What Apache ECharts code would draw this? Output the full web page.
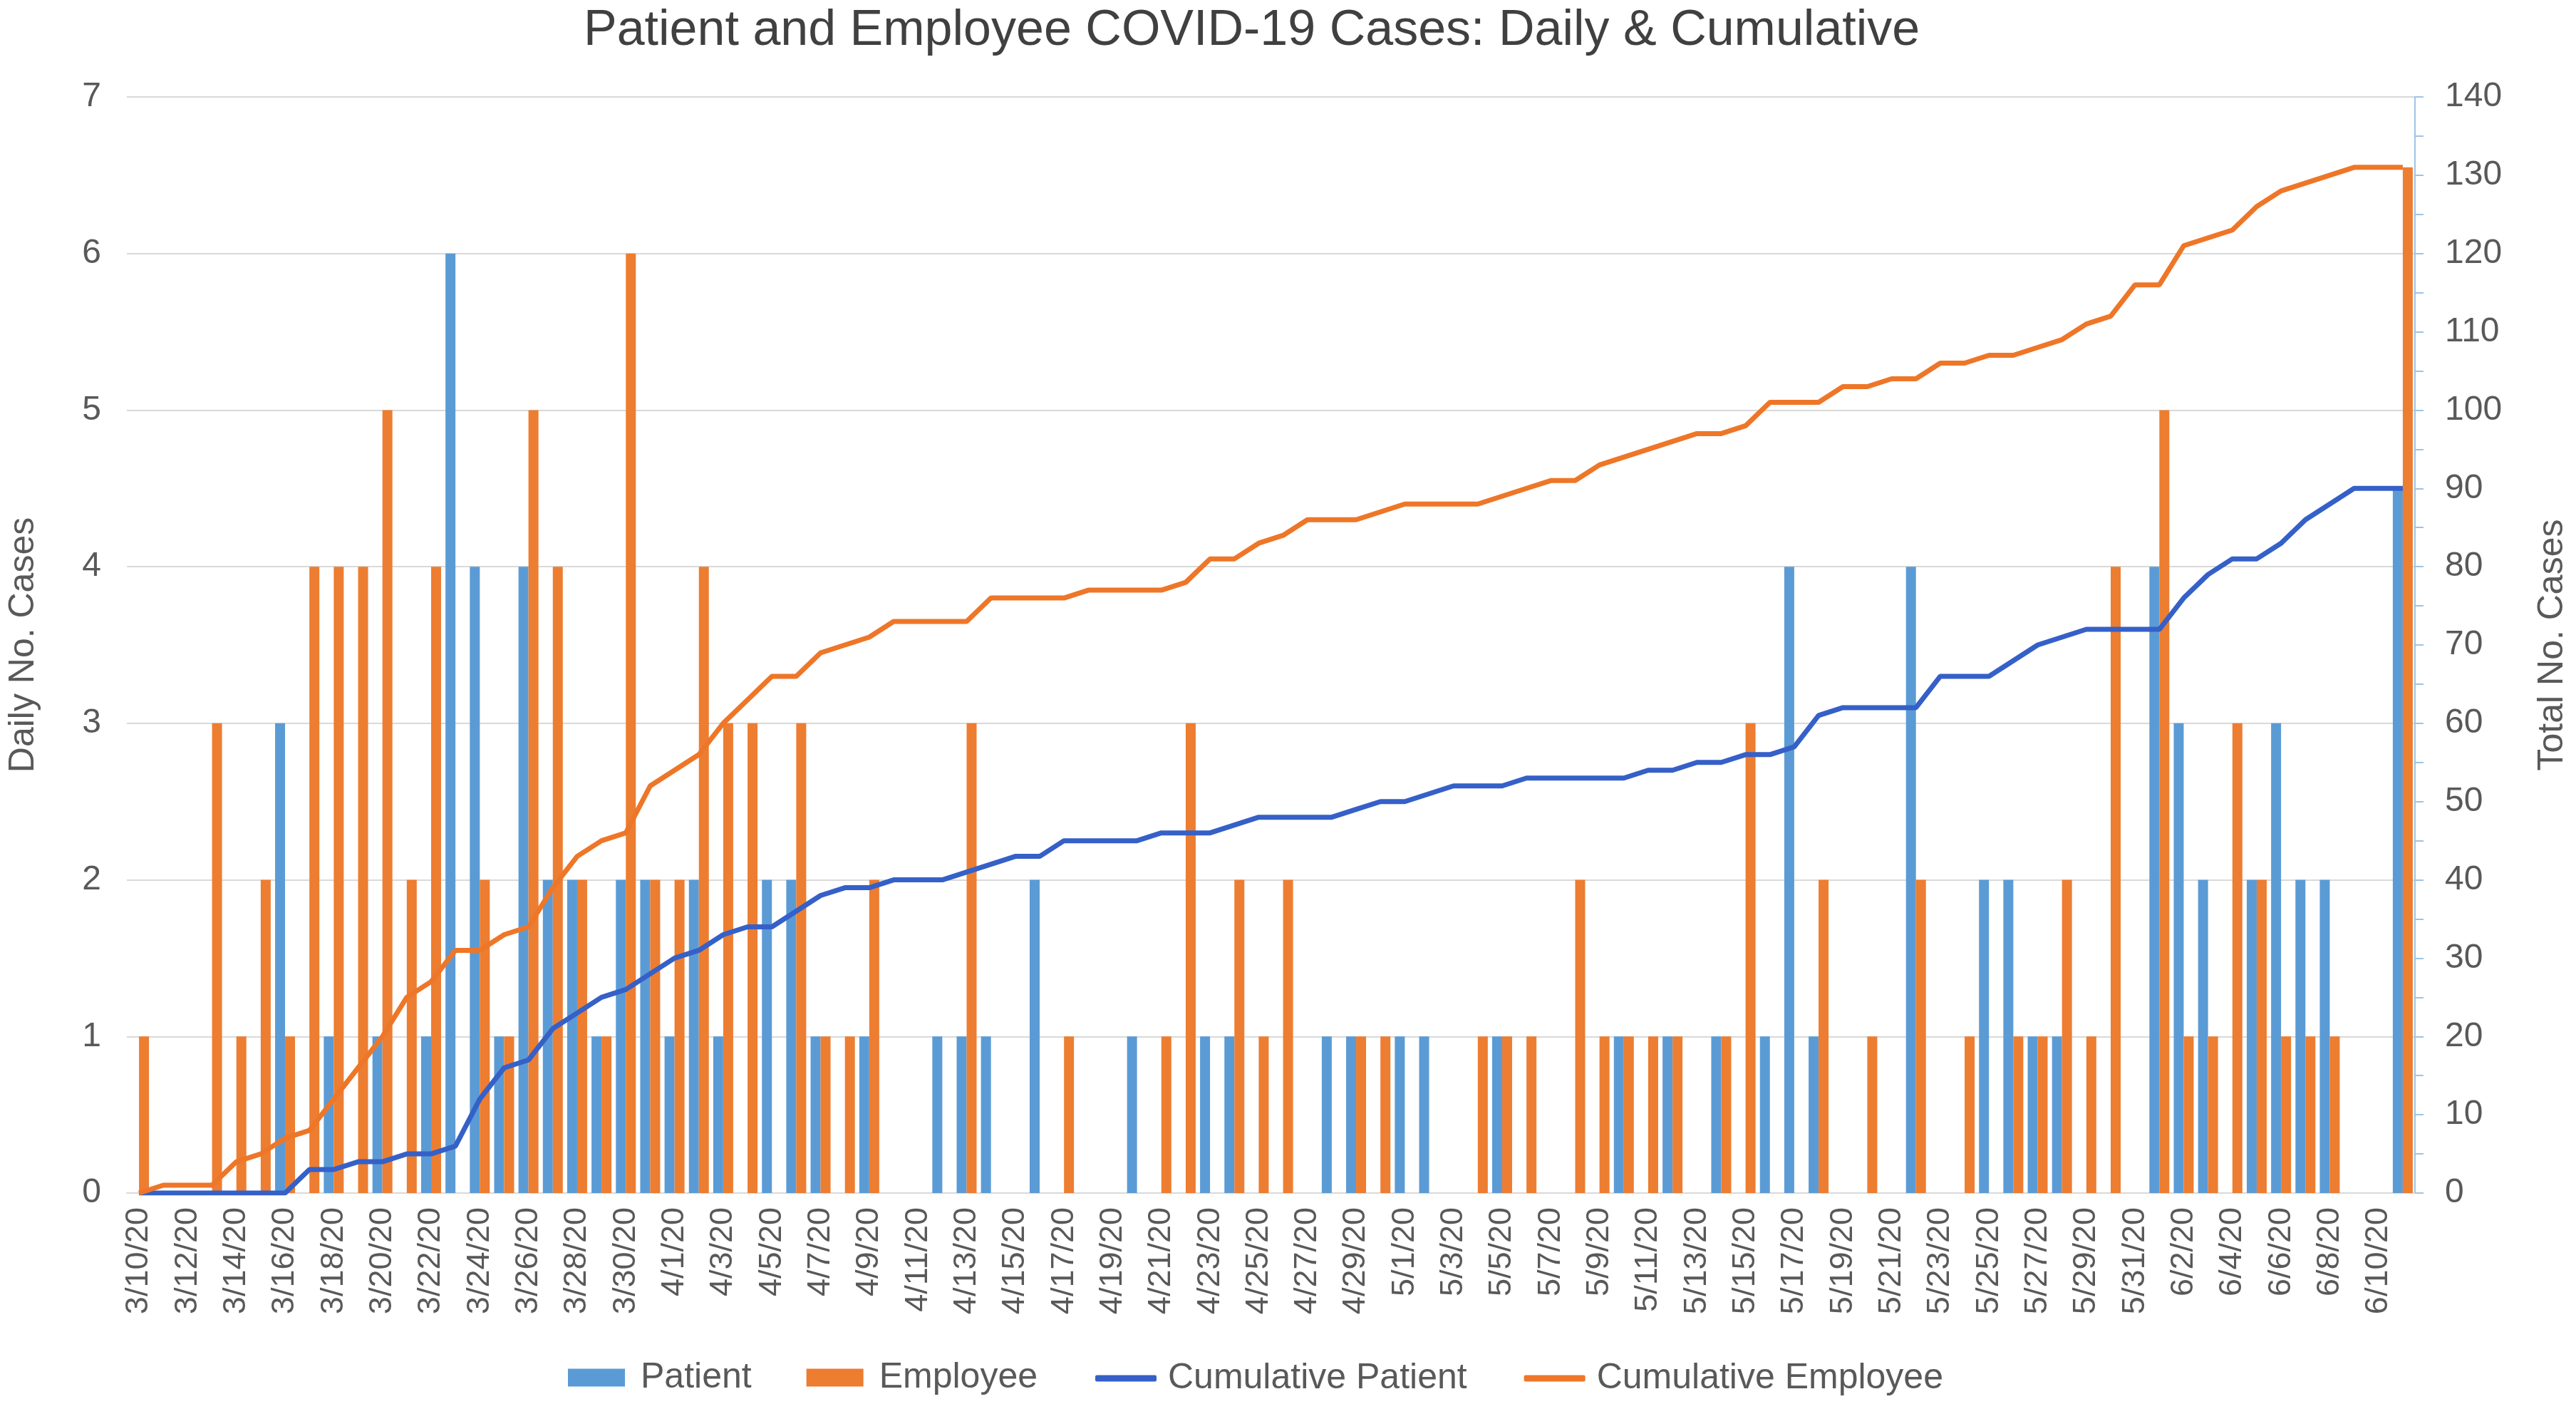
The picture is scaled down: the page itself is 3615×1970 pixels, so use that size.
<!DOCTYPE html>
<html>
<head>
<meta charset="utf-8">
<title>Patient and Employee COVID-19 Cases</title>
<script src="https://cdn.jsdelivr.net/npm/echarts@6/dist/echarts.min.js"></script>
<style>
  html, body { margin: 0; padding: 0; background: #fff; }
  #chart { width: 3615px; height: 1970px; }
</style>
</head>
<body>
<div id="chart"></div>
<script>
/* =================================
   data
================================= */

// one label per day, the last slot holds the totals
var dates = [
  "3/10/20", "3/11/20", "3/12/20", "3/13/20", "3/14/20", "3/15/20", "3/16/20", "3/17/20", "3/18/20", "3/19/20",
  "3/20/20", "3/21/20", "3/22/20", "3/23/20", "3/24/20", "3/25/20", "3/26/20", "3/27/20", "3/28/20", "3/29/20",
  "3/30/20", "3/31/20", "4/1/20", "4/2/20", "4/3/20", "4/4/20", "4/5/20", "4/6/20", "4/7/20", "4/8/20",
  "4/9/20", "4/10/20", "4/11/20", "4/12/20", "4/13/20", "4/14/20", "4/15/20", "4/16/20", "4/17/20", "4/18/20",
  "4/19/20", "4/20/20", "4/21/20", "4/22/20", "4/23/20", "4/24/20", "4/25/20", "4/26/20", "4/27/20", "4/28/20",
  "4/29/20", "4/30/20", "5/1/20", "5/2/20", "5/3/20", "5/4/20", "5/5/20", "5/6/20", "5/7/20", "5/8/20",
  "5/9/20", "5/10/20", "5/11/20", "5/12/20", "5/13/20", "5/14/20", "5/15/20", "5/16/20", "5/17/20", "5/18/20",
  "5/19/20", "5/20/20", "5/21/20", "5/22/20", "5/23/20", "5/24/20", "5/25/20", "5/26/20", "5/27/20", "5/28/20",
  "5/29/20", "5/30/20", "5/31/20", "6/1/20", "6/2/20", "6/3/20", "6/4/20", "6/5/20", "6/6/20", "6/7/20",
  "6/8/20", "6/9/20", "6/10/20", "Total"
];

var patientDaily = [
  0, 0, 0, 0, 0, 0, 3, 0, 1, 0,
  1, 0, 1, 6, 4, 1, 4, 2, 2, 1,
  2, 2, 1, 2, 1, 0, 2, 2, 1, 0,
  1, 0, 0, 1, 1, 1, 0, 2, 0, 0,
  0, 1, 0, 0, 1, 1, 0, 0, 0, 1,
  1, 0, 1, 1, 0, 0, 1, 0, 0, 0,
  0, 1, 0, 1, 0, 1, 0, 1, 4, 1,
  0, 0, 0, 4, 0, 0, 2, 2, 1, 1,
  0, 0, 0, 4, 3, 2, 0, 2, 3, 2,
  2, 0, 0, null
];

var employeeDaily = [
  1, 0, 0, 3, 1, 2, 1, 4, 4, 4,
  5, 2, 4, 0, 2, 1, 5, 4, 2, 1,
  6, 2, 2, 4, 3, 3, 0, 3, 1, 1,
  2, 0, 0, 0, 3, 0, 0, 0, 1, 0,
  0, 0, 1, 3, 0, 2, 1, 2, 0, 0,
  1, 1, 0, 0, 0, 1, 1, 1, 0, 2,
  1, 1, 1, 1, 0, 1, 3, 0, 0, 2,
  0, 1, 0, 2, 0, 1, 0, 1, 1, 2,
  1, 4, 0, 5, 1, 1, 3, 2, 1, 1,
  1, 0, 0, null
];

var patientCumulative = [
  0, 0, 0, 0, 0, 0, 0, 3, 3, 4,
  4, 5, 5, 6, 12, 16, 17, 21, 23, 25,
  26, 28, 30, 31, 33, 34, 34, 36, 38, 39,
  39, 40, 40, 40, 41, 42, 43, 43, 45, 45,
  45, 45, 46, 46, 46, 47, 48, 48, 48, 48,
  49, 50, 50, 51, 52, 52, 52, 53, 53, 53,
  53, 53, 54, 54, 55, 55, 56, 56, 57, 61,
  62, 62, 62, 62, 66, 66, 66, 68, 70, 71,
  72, 72, 72, 72, 76, 79, 81, 81, 83, 86,
  88, 90, 90, 90
];

var employeeCumulative = [
  0, 1, 1, 1, 4, 5, 7, 8, 12, 16,
  20, 25, 27, 31, 31, 33, 34, 39, 43, 45,
  46, 52, 54, 56, 60, 63, 66, 66, 69, 70,
  71, 73, 73, 73, 73, 76, 76, 76, 76, 77,
  77, 77, 77, 78, 81, 81, 83, 84, 86, 86,
  86, 87, 88, 88, 88, 88, 89, 90, 91, 91,
  93, 94, 95, 96, 97, 97, 98, 101, 101, 101,
  103, 103, 104, 104, 106, 106, 107, 107, 108, 109,
  111, 112, 116, 116, 121, 122, 123, 126, 128, 129,
  130, 131, 131, 131
];

// totals are drawn as bars against the right axis in the last slot
var patientTotal = 90;
var employeeTotal = 131;

var dailyTicks = { min: 0, max: 7, interval: 1 };
var totalTicks = { min: 0, max: 140, interval: 10 };

/* =================================
   chart
================================= */

var FONT = "'Liberation Sans', Arial, sans-serif";
var BLUE = "#5B9BD5";
var ORANGE = "#ED7D31";
var LINE_BLUE = "#3560C8";
var LINE_ORANGE = "#EE7628";
var TEXT = "#595959";

function totalSlot(value) {
  var arr = dates.map(function() { return null; });
  arr[dates.length - 1] = value;
  return arr;
}

var legendText = { fontFamily: FONT, fontSize: 50, color: TEXT };

var chart = echarts.init(document.getElementById("chart"), null, { renderer: "canvas" });

chart.setOption({
  animation: false,
  backgroundColor: "#ffffff",
  textStyle: { fontFamily: FONT },
  title: {
    text: "Patient and Employee COVID-19 Cases: Daily & Cumulative",
    left: 814,
    top: 4,
    textStyle: { fontFamily: FONT, fontSize: 70, fontWeight: "normal", color: "#404040" }
  },
  legend: [
    {
      // bar swatches
      left: 792,
      top: 1903,
      itemWidth: 80,
      itemHeight: 25,
      itemGap: 77,
      icon: "rect",
      data: ["Patient", "Employee"],
      textStyle: Object.assign({ padding: [0, 0, 0, 17] }, legendText)
    },
    {
      // line swatches
      left: 1532,
      top: 1904,
      itemWidth: 86,
      itemHeight: 9,
      itemGap: 80,
      icon: "roundRect",
      data: ["Cumulative Patient", "Cumulative Employee"],
      textStyle: Object.assign({ padding: [0, 0, 0, 11] }, legendText)
    }
  ],
  grid: { left: 175, right: 221, top: 136, bottom: 296, containLabel: false },
  xAxis: {
    type: "category",
    data: dates,
    boundaryGap: true,
    axisLine: { lineStyle: { color: "#d9d9d9", width: 2 } },
    axisTick: { show: false },
    axisLabel: {
      rotate: 90,
      interval: 1,
      margin: 20,
      fontSize: 45,
      color: TEXT,
      fontFamily: FONT
    }
  },
  yAxis: [
    {
      type: "value",
      min: dailyTicks.min,
      max: dailyTicks.max,
      interval: dailyTicks.interval,
      name: "Daily No. Cases",
      nameLocation: "middle",
      nameRotate: 90,
      nameGap: 120,
      nameTextStyle: { fontFamily: FONT, fontSize: 50, color: TEXT },
      axisLine: { show: false },
      axisTick: { show: false },
      axisLabel: { fontSize: 48, color: TEXT, margin: 36, fontFamily: FONT },
      splitLine: { lineStyle: { color: "#d9d9d9", width: 2 } }
    },
    {
      type: "value",
      position: "right",
      min: totalTicks.min,
      max: totalTicks.max,
      interval: totalTicks.interval,
      name: "Total No. Cases",
      nameLocation: "middle",
      nameRotate: 90,
      nameGap: 168,
      nameTextStyle: { fontFamily: FONT, fontSize: 50, color: TEXT },
      axisLine: { show: true, lineStyle: { color: "#9DC3E6", width: 2 } },
      axisTick: { show: true, length: 12, lineStyle: { color: "#9DC3E6", width: 2 } },
      minorTick: { show: true, splitNumber: 2, length: 12, lineStyle: { color: "#9DC3E6", width: 2 } },
      axisLabel: { fontSize: 48, color: TEXT, margin: 42, fontFamily: FONT },
      splitLine: { show: false }
    }
  ],
  series: [
    {
      name: "Patient",
      type: "bar",
      stack: "p",
      yAxisIndex: 0,
      data: patientDaily,
      barWidth: 14,
      barGap: "0%",
      itemStyle: { color: BLUE }
    },
    {
      name: "Employee",
      type: "bar",
      stack: "e",
      yAxisIndex: 0,
      data: employeeDaily,
      barWidth: 14,
      barGap: "0%",
      itemStyle: { color: ORANGE }
    },
    {
      name: "Patient",
      type: "bar",
      stack: "p",
      yAxisIndex: 1,
      data: totalSlot(patientTotal),
      barWidth: 14,
      barGap: "0%",
      itemStyle: { color: BLUE }
    },
    {
      name: "Employee",
      type: "bar",
      stack: "e",
      yAxisIndex: 1,
      data: totalSlot(employeeTotal),
      barWidth: 14,
      barGap: "0%",
      itemStyle: { color: ORANGE }
    },
    {
      name: "Cumulative Patient",
      type: "line",
      yAxisIndex: 1,
      data: patientCumulative,
      symbol: "none",
      lineStyle: { color: LINE_BLUE, width: 7 },
      itemStyle: { color: LINE_BLUE },
      z: 5
    },
    {
      name: "Cumulative Employee",
      type: "line",
      yAxisIndex: 1,
      data: employeeCumulative,
      symbol: "none",
      lineStyle: { color: LINE_ORANGE, width: 7 },
      itemStyle: { color: LINE_ORANGE },
      z: 5
    }
  ]
});
</script>
</body>
</html>
